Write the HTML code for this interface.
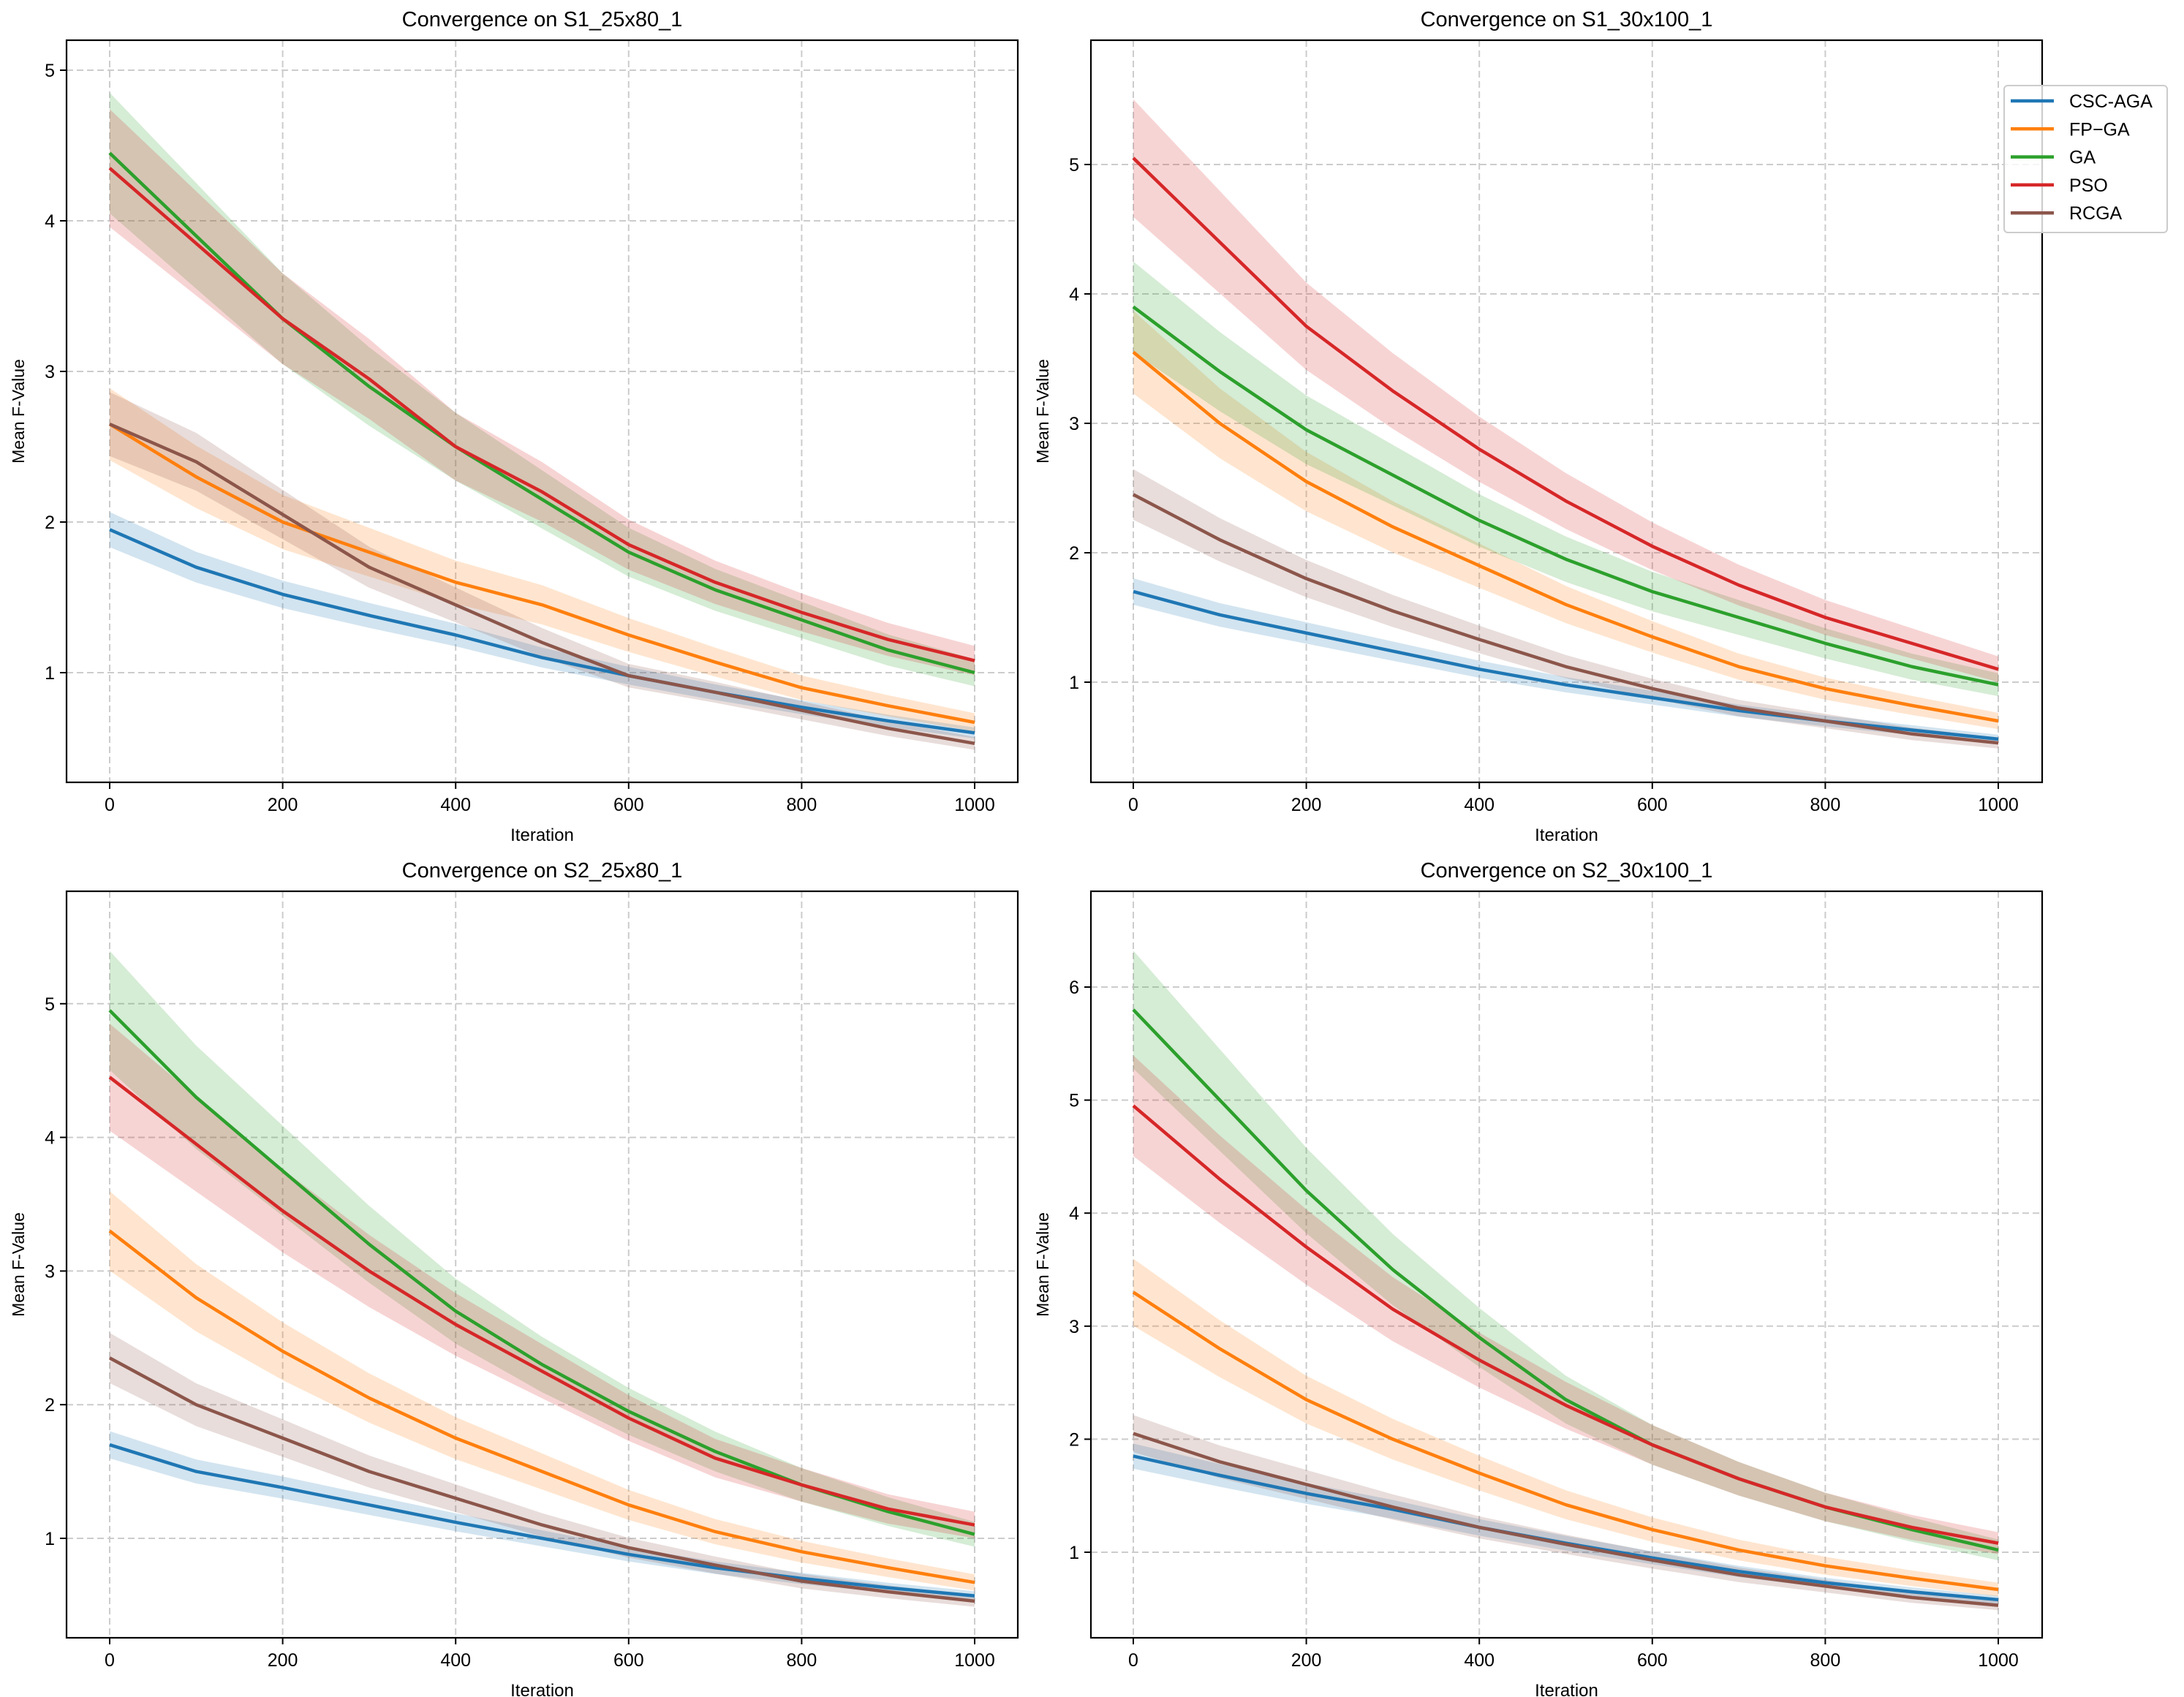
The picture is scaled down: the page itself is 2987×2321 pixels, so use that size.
<!DOCTYPE html>
<html><head><meta charset="utf-8"><style>
html,body{margin:0;padding:0;background:#fff}
svg{display:block;font-family:"Liberation Sans",sans-serif}
</style></head><body>
<svg id="fig" width="2987" height="2321" viewBox="0 0 2987 2321"></svg>
<script>
const iterations=[0,100,200,300,400,500,600,700,800,900,1000];
const seriesNames=["CSC-AGA","FP-GA","GA","PSO","RCGA"];
const seriesColors=["#1f77b4","#ff7f0e","#2ca02c","#d62728","#8c564b"];
const xTicks=[0,200,400,600,800,1000];
const panelTitles=["Convergence on S1_25x80_1","Convergence on S1_30x100_1","Convergence on S2_25x80_1","Convergence on S2_30x100_1"];
const yTicksP1=[1,2,3,4,5];
const yTicksP2=[1,2,3,4,5];
const yTicksP3=[1,2,3,4,5];
const yTicksP4=[1,2,3,4,5,6];
// panel 1 S1_25x80_1
const p1CSC=[1.95,1.7,1.52,1.38,1.25,1.1,0.98,0.87,0.77,0.68,0.6];
const p1FP=[2.65,2.3,2.0,1.8,1.6,1.45,1.25,1.07,0.9,0.78,0.67];
const p1GA=[4.45,3.9,3.35,2.9,2.5,2.15,1.8,1.55,1.35,1.15,1.0];
const p1PSO=[4.35,3.85,3.35,2.95,2.5,2.2,1.85,1.6,1.4,1.22,1.08];
const p1RCGA=[2.65,2.4,2.05,1.7,1.45,1.2,0.98,0.87,0.75,0.63,0.53];
// panel 2 S1_30x100_1
const p2CSC=[1.7,1.52,1.38,1.24,1.1,0.98,0.88,0.78,0.7,0.63,0.56];
const p2FP=[3.55,3.0,2.55,2.2,1.9,1.6,1.35,1.12,0.95,0.82,0.7];
const p2GA=[3.9,3.4,2.95,2.6,2.25,1.95,1.7,1.5,1.3,1.12,0.98];
const p2PSO=[5.05,4.4,3.75,3.25,2.8,2.4,2.05,1.75,1.5,1.3,1.1];
const p2RCGA=[2.45,2.1,1.8,1.55,1.33,1.12,0.95,0.8,0.7,0.6,0.53];
// panel 3 S2_25x80_1
const p3CSC=[1.7,1.5,1.38,1.25,1.12,1.0,0.88,0.78,0.7,0.63,0.57];
const p3FP=[3.3,2.8,2.4,2.05,1.75,1.5,1.25,1.05,0.9,0.78,0.67];
const p3GA=[4.95,4.3,3.75,3.2,2.7,2.3,1.95,1.65,1.4,1.2,1.03];
const p3PSO=[4.45,3.95,3.45,3.0,2.6,2.25,1.9,1.6,1.4,1.22,1.1];
const p3RCGA=[2.35,2.0,1.75,1.5,1.3,1.1,0.93,0.8,0.68,0.6,0.53];
// panel 4 S2_30x100_1
const p4CSC=[1.85,1.68,1.52,1.38,1.22,1.08,0.95,0.83,0.73,0.65,0.58];
const p4FP=[3.3,2.8,2.35,2.0,1.7,1.42,1.2,1.02,0.88,0.77,0.67];
const p4GA=[5.8,5.0,4.2,3.5,2.9,2.35,1.95,1.65,1.4,1.2,1.02];
const p4PSO=[4.95,4.3,3.7,3.15,2.7,2.3,1.95,1.65,1.4,1.22,1.08];
const p4RCGA=[2.05,1.8,1.6,1.4,1.22,1.07,0.93,0.8,0.7,0.6,0.53];
const bandSpread=[0.06,0.09,0.09,0.09,0.08];

const NS="http://www.w3.org/2000/svg";
const svg=document.getElementById('fig');
function mk(tag,attrs,parent){const e=document.createElementNS(NS,tag);for(const k in attrs)e.setAttribute(k,attrs[k]);(parent||svg).appendChild(e);return e;}

const panels=[
 {x0:91,x1:1392,y0:55,y1:1070,px0:150,px1:1333,ref1:920,perUnit:206,ticks:yTicksP1,data:[p1CSC,p1FP,p1GA,p1PSO,p1RCGA]},
 {x0:1492,x1:2793,y0:55,y1:1070,px0:1550,px1:2733,ref1:933,perUnit:177,ticks:yTicksP2,data:[p2CSC,p2FP,p2GA,p2PSO,p2RCGA]},
 {x0:91,x1:1392,y0:1219,y1:2240,px0:150,px1:1333,ref1:2104,perUnit:182.8,ticks:yTicksP3,data:[p3CSC,p3FP,p3GA,p3PSO,p3RCGA]},
 {x0:1492,x1:2793,y0:1219,y1:2240,px0:1550,px1:2733,ref1:2123,perUnit:154.6,ticks:yTicksP4,data:[p4CSC,p4FP,p4GA,p4PSO,p4RCGA]}
];

panels.forEach((p,pi)=>{
  const g=mk('g',{});
  
  
  const xs=v=>p.px0+(p.px1-p.px0)*v/1000;
  const ys=v=>p.ref1-(v-1)*p.perUnit;
  // grid
  xTicks.forEach(t=>{
    const l=mk('line',{x1:xs(t),x2:xs(t),y1:p.y0,y2:p.y1,stroke:'#cccccc','stroke-width':2,'stroke-dasharray':'9,5'},g);
    
    
  });
  p.ticks.forEach(t=>{
    const l=mk('line',{x1:p.x0,x2:p.x1,y1:ys(t),y2:ys(t),stroke:'#cccccc','stroke-width':2,'stroke-dasharray':'9,5'},g);
    
    
  });
  // bands and lines
  p.data.forEach((arr,si)=>{
    const up=arr.map((v,i)=>xs(iterations[i])+','+ys(v*(1+bandSpread[si])));
    const lo=arr.map((v,i)=>xs(iterations[i])+','+ys(v*(1-bandSpread[si]))).reverse();
    const b=mk('polygon',{points:up.concat(lo).join(' '),fill:seriesColors[si],'fill-opacity':0.2},g);
    
    
  });
  p.data.forEach((arr,si)=>{
    const pts=arr.map((v,i)=>xs(iterations[i])+','+ys(v)).join(' ');
    const l=mk('polyline',{points:pts,fill:'none',stroke:seriesColors[si],'stroke-width':4.5,'stroke-linejoin':'round'},g);
    
    
  });
  // frame
  const fr=mk('rect',{x:p.x0,y:p.y0,width:p.x1-p.x0,height:p.y1-p.y0,fill:'none',stroke:'#000','stroke-width':2.2},g);
  
  
  // ticks
  xTicks.forEach(t=>{
    mk('line',{x1:xs(t),x2:xs(t),y1:p.y1,y2:p.y1+9,stroke:'#000','stroke-width':2},g);
    const tx=mk('text',{x:xs(t),y:p.y1+39,'font-size':25,'text-anchor':'middle'},g);
    tx.textContent=t;
    
    
  });
  p.ticks.forEach(t=>{
    mk('line',{x1:p.x0-9,x2:p.x0,y1:ys(t),y2:ys(t),stroke:'#000','stroke-width':2},g);
    const tx=mk('text',{x:p.x0-16,y:ys(t)+9,'font-size':25,'text-anchor':'end'},g);
    tx.textContent=t;
    
    
  });
  const cx=(p.x0+p.x1)/2;
  const ti=mk('text',{x:cx,y:p.y0-19,'font-size':29,'text-anchor':'middle'},g);
  ti.textContent=panelTitles[pi];
  
  
  const xl=mk('text',{x:cx,y:p.y1+80,'font-size':24,'text-anchor':'middle'},g);
  xl.textContent='Iteration';
  
  
  const yx=p.x0-58, yy=(p.y0+p.y1)/2;
  const yl=mk('text',{x:yx,y:yy,'font-size':23,'text-anchor':'middle',transform:'rotate(-90 '+yx+' '+yy+')'},g);
  yl.textContent='Mean F-Value';
  
  
});

// legend
const lg=mk('g',{});


mk('rect',{x:2741,y:117,width:223,height:201,rx:5,fill:'#fff','fill-opacity':0.8,stroke:'#cccccc','stroke-width':2},lg);
seriesNames.forEach((n,i)=>{
  const y=138+i*38.3;
  mk('line',{x1:2750,x2:2809,y1:y,y2:y,stroke:seriesColors[i],'stroke-width':4.5},lg);
  const t=mk('text',{x:2830,y:y+9,'font-size':25},lg);
  t.textContent=n==='FP-GA'?'FP\u2212GA':n;
  
  
});
</script>
</body></html>
